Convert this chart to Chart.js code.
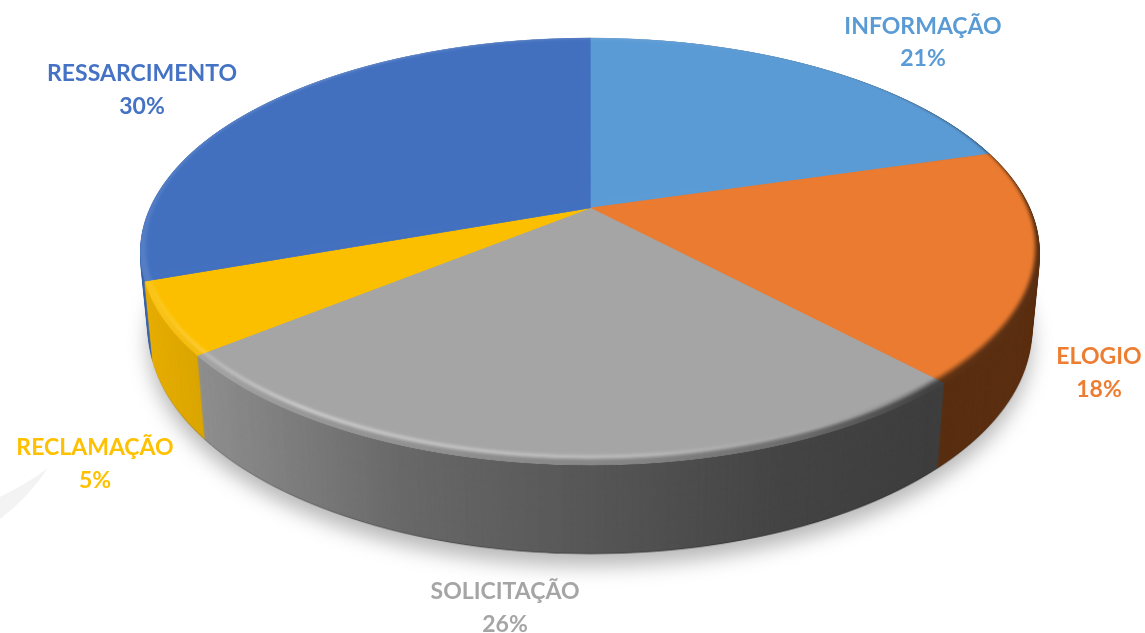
<!DOCTYPE html>
<html>
<head>
<meta charset="utf-8">
<style>
  html, body { margin: 0; background: #fff; }
  canvas { display: block; }
</style>
<script src="https://cdn.jsdelivr.net/npm/chart.js@4"></script>
</head>
<body>
<canvas id="pie-3d" width="1145" height="633"></canvas>
<script>
const categorias = ['INFORMAÇÃO', 'ELOGIO', 'SOLICITAÇÃO', 'RECLAMAÇÃO', 'RESSARCIMENTO'];
const percentuais = [20.5, 17.5, 26.2, 5.4, 30.4];
const corFatia = ['#5b9bd5', '#ea7b30', '#a5a5a5', '#fcbf00', '#4270bf'];
const corTexto = ['#5b9bd5', '#ed7d31', '#a5a5a5', '#ffc000', '#4472c4'];

// centro do rotulo de cada categoria (x, linha do nome, linha do %)
const rotuloX = [923, 1099, 505, 95, 142];
const rotuloY1 = [26.5, 356.5, 591.5, 447.5, 73.5];
const rotuloY2 = [58.5, 389.5, 624.5, 480.5, 106.5];

// perspectiva do disco: apice em (X0, Y0), k = quanto a frente cresce
const W = 1145, H = 633;
const X0 = 590, Y0 = 208, A = 439.6, B = 204.6, K = 0.2037;
const ELIPSE_Y = 251.5;
const PROFUNDIDADE = { passos: 96, sx: 0.982, sy: 1.047, dy: 78.5 };

function novaCamada(origem) {
    const c = document.createElement('canvas');
    c.width = W;
    c.height = H;
    if (origem) c.getContext('2d').drawImage(origem, 0, 0);
    return c;
}

// desenha os arcos do Chart.js linha a linha com a transformacao de perspectiva
function discoPerspectiva(arcos) {
    const camada = novaCamada();
    const c = camada.getContext('2d');
    const { x: cx, y: cy, outerRadius: r } = arcos[0];
    const topo = Math.floor(Y0 - B / (1 + K)) - 2;
    const base = Math.ceil(Y0 + B / (1 - K)) + 2;
    for (let y = topo; y < base; y++) {
        const d = y + 0.5 - Y0;
        const v = d / (B + K * d);
        const s = 1 / (1 - K * v);
        const dy = B * s * s;
        c.save();
        c.beginPath();
        c.rect(0, y, W, 1);
        c.clip();
        c.setTransform(A * s / r, 0, 0, dy / r, X0 - A * s * cx / r, y + 0.5 - dy / r * (cy + v * r));
        arcos.forEach(a => a.draw(c));
        c.restore();
    }
    return camada;
}

// pinta por cima so onde ja existe disco
function sombrear(camada, paradas) {
    const c = camada.getContext('2d');
    const g = c.createLinearGradient(0, 0, W, 0);
    paradas.forEach(p => g.addColorStop(p[0] / W, p[1]));
    c.globalCompositeOperation = 'source-atop';
    c.fillStyle = g;
    c.fillRect(0, 0, W, H);
    c.globalCompositeOperation = 'source-over';
    return camada;
}

// recorta a camada por uma copia menor e desfocada do disco
function recortar(camada, base, fx, fy, sobe, desfoque) {
    const mascara = novaCamada();
    const m = mascara.getContext('2d');
    m.filter = 'blur(' + desfoque + 'px)';
    m.drawImage(base, X0 - X0 * fx, ELIPSE_Y - sobe - ELIPSE_Y * fy, W * fx, H * fy);
    const f = camada.getContext('2d');
    f.globalCompositeOperation = 'destination-in';
    f.drawImage(mascara, 0, 0);
    return camada;
}

const pie3d = {
    id: 'pie3d',
    beforeDraw(chart) {
        // brilho claro no canto inferior esquerdo do fundo
        const c = chart.ctx;
        c.save();
        c.fillStyle = '#f3f3f3';
        c.beginPath();
        c.moveTo(0, 497);
        c.quadraticCurveTo(28, 483, 48, 468);
        c.quadraticCurveTo(28, 498, 0, 519);
        c.closePath();
        c.fill();
        c.restore();
    },
    beforeDatasetsDraw(chart) {
        const c = chart.ctx;
        const base = discoPerspectiva(chart.getDatasetMeta(0).data);

        const parede = sombrear(novaCamada(base), [
            [140, 'rgba(0,0,0,0.08)'], [207, 'rgba(0,0,0,0.14)'], [400, 'rgba(0,0,0,0.36)'],
            [590, 'rgba(0,0,0,0.47)'], [780, 'rgba(0,0,0,0.58)'], [930, 'rgba(0,0,0,0.62)'],
            [1045, 'rgba(0,0,0,0.6)']
        ]);
        const { passos, sx, sy, dy } = PROFUNDIDADE;
        for (let i = passos; i >= 1; i--) {
            const t = i / passos;
            const ex = 1 + (sx - 1) * t;
            const ey = 1 + (sy - 1) * t;
            c.save();
            if (i === passos) {
                c.shadowColor = 'rgba(0,0,0,0.28)';
                c.shadowBlur = 20;
                c.shadowOffsetY = 12;
                c.filter = 'brightness(0.72)';
            }
            c.drawImage(parede, X0 - X0 * ex, ELIPSE_Y + dy * t - ELIPSE_Y * ey, W * ex, H * ey);
            c.restore();
        }

        // chanfro externo: funde com a parede
        const externo = sombrear(novaCamada(base), [
            [140, 'rgba(255,255,255,0.1)'], [300, 'rgba(0,0,0,0.08)'], [640, 'rgba(0,0,0,0.2)'],
            [800, 'rgba(0,0,0,0.35)'], [930, 'rgba(0,0,0,0.6)'], [1045, 'rgba(0,0,0,0.62)']
        ]);
        c.drawImage(recortar(externo, base, 1, 1, 0, 0.6), 0, 0);

        // filete de brilho: claro a esquerda, some para a direita
        const brilho = sombrear(novaCamada(base), [
            [140, 'rgba(255,255,255,0.1)'], [300, 'rgba(255,255,255,0.48)'], [640, 'rgba(255,255,255,0.28)'],
            [780, 'rgba(255,255,255,0.04)'], [930, 'rgba(0,0,0,0.3)'], [1045, 'rgba(0,0,0,0.4)']
        ]);
        c.drawImage(recortar(brilho, base, 0.993, 0.985, 3.5, 1.8), 0, 0);

        // face superior com a borda suave
        c.drawImage(recortar(novaCamada(base), base, 0.988, 0.976, 5, 1.8), 0, 0);
        return false;
    },
    afterDraw(chart) {
        const c = chart.ctx;
        c.save();
        c.font = 'bold 23px Lato';
        c.textAlign = 'center';
        c.textBaseline = 'middle';
        categorias.forEach((nome, i) => {
            c.fillStyle = corTexto[i];
            c.fillText(nome, rotuloX[i], rotuloY1[i]);
            c.fillText(Math.round(percentuais[i]) + '%', rotuloX[i], rotuloY2[i]);
        });
        c.restore();
    }
};

new Chart(document.getElementById('pie-3d'), {
    type: 'pie',
    data: {
        labels: categorias,
        datasets: [{
            data: percentuais,
            backgroundColor: corFatia,
            borderColor: corFatia,
            borderWidth: 1
        }]
    },
    options: {
        responsive: false,
        animation: false,
        plugins: {
            legend: { display: false },
            tooltip: { enabled: false }
        }
    },
    plugins: [pie3d]
});
</script>
</body>
</html>
